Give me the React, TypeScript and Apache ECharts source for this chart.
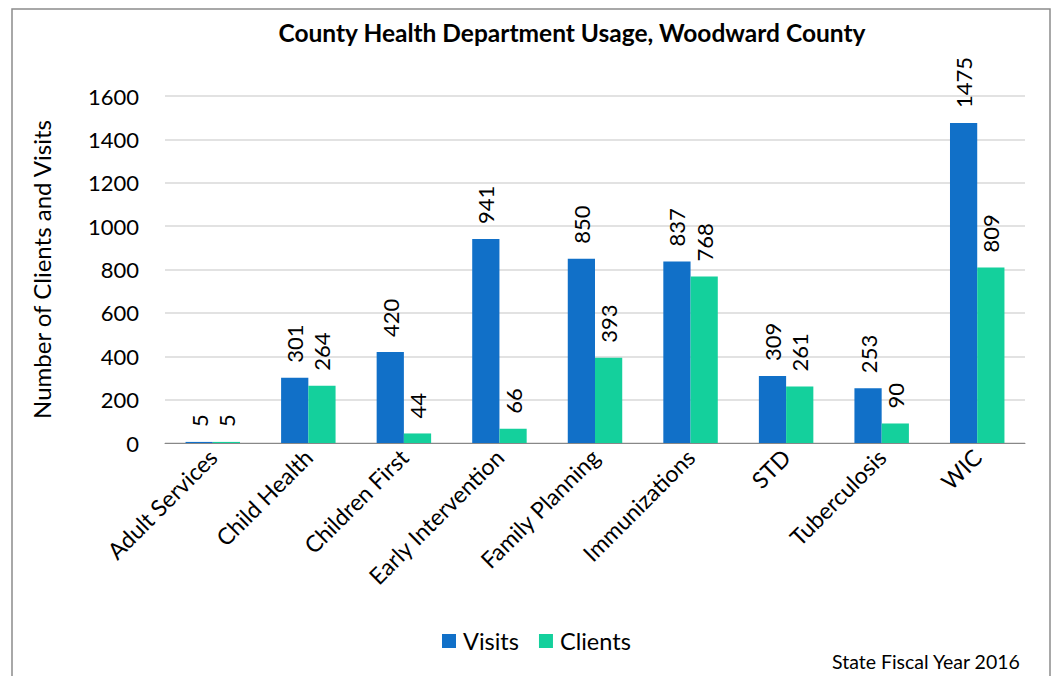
import React, { useEffect, useRef } from "react";
import * as echarts from "echarts";

const categories = ["Adult Services", "Child Health", "Children First", "Early Intervention", "Family Planning", "Immunizations", "STD", "Tuberculosis", "WIC"];
const visits = [5, 301, 420, 941, 850, 837, 309, 253, 1475];
const clients = [5, 264, 44, 66, 393, 768, 261, 90, 809];
const FONT = "Lato, 'Open Sans', sans-serif";

export default function App() {
  const ref = useRef<HTMLDivElement>(null);
  useEffect(() => {
    const chart = echarts.init(ref.current!, null, { renderer: "svg" });
    const label = {
      show: true,
      position: "top" as const,
      rotate: 90,
      align: "left" as const,
      verticalAlign: "middle" as const,
      distance: 15,
      fontSize: 22,
      color: "#000",
      fontFamily: FONT,
    };
    chart.setOption({
      animation: false,
      backgroundColor: "#fff",
      textStyle: { fontFamily: FONT },
      title: {
        text: "County Health Department Usage, Woodward County",
        left: 567,
        textAlign: "center",
        top: 15,
        textStyle: { fontSize: 24.5, fontWeight: "bold", color: "#000", fontFamily: FONT },
      },
      graphic: [
        { type: "rect", shape: { x: 12, y: 9, width: 1038, height: 700 }, style: { fill: "none", stroke: "#8c8c8c", lineWidth: 1.5 }, z: -1 },
        { type: "text", right: 35, top: 651, style: { text: "State Fiscal Year 2016", fontSize: 19.5, fill: "#000", fontFamily: FONT } },
      ],
      legend: {
        bottom: 18,
        left: 437,
        itemWidth: 14,
        itemHeight: 14,
        itemGap: 20,
        icon: "rect",
        textStyle: { fontSize: 23.5, color: "#000", fontFamily: FONT, padding: [0, 0, 0, 2] },
        data: ["Visits", "Clients"],
      },
      grid: { left: 165, right: 31, top: 96, bottom: 233 },
      xAxis: {
        type: "category",
        data: categories,
        axisLine: { lineStyle: { color: "#888", width: 1 } },
        axisTick: { length: 5, lineStyle: { color: "#888" } },
        axisLabel: { rotate: 45, fontSize: 23, color: "#000", margin: 10, interval: 0, fontFamily: FONT },
      },
      yAxis: {
        type: "value",
        min: 0,
        max: 1600,
        interval: 200,
        name: "Number of Clients and Visits",
        nameLocation: "middle",
        nameGap: 112,
        nameTextStyle: { fontSize: 24, color: "#000", fontFamily: FONT },
        axisLine: { show: false },
        axisTick: { show: false },
        axisLabel: { fontSize: 22, color: "#000", margin: 26, fontFamily: FONT, formatter: (v: number) => String(v) },
        splitLine: { lineStyle: { color: "#d9d9d9", width: 1.5 } },
      },
      series: [
        { name: "Visits", type: "bar", data: visits, barGap: "0%", barCategoryGap: "43%", itemStyle: { color: "#1170C8" }, label },
        { name: "Clients", type: "bar", data: clients, barGap: "0%", barCategoryGap: "43%", itemStyle: { color: "#14D09C" }, label },
      ],
    });
    return () => chart.dispose();
  }, []);
  return <div ref={ref} style={{ position: "fixed", left: 0, top: 0, width: 1056, height: 676 }} />;
}
